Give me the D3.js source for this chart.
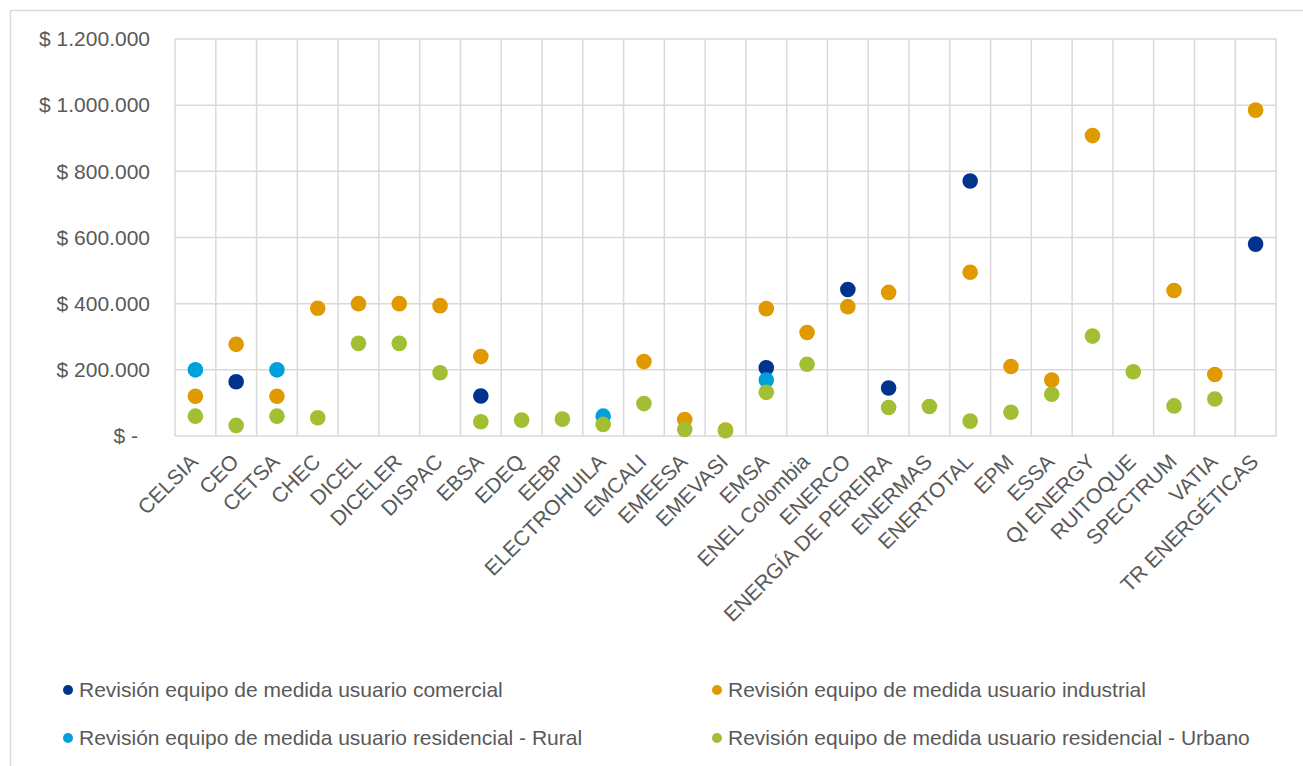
<!DOCTYPE html>
<html>
<head>
<meta charset="utf-8">
<script src="https://cdn.jsdelivr.net/npm/d3@7"></script>
<style>
  html, body { margin: 0; padding: 0; background: #fff; }
  svg { display: block; font-family: "Liberation Sans", Arial, sans-serif; }
</style>
</head>
<body>
<svg id="chart" width="1303" height="766"></svg>
<script>
const categories = ["CELSIA","CEO","CETSA","CHEC","DICEL","DICELER","DISPAC","EBSA","EDEQ","EEBP","ELECTROHUILA","EMCALI","EMEESA","EMEVASI","EMSA","ENEL Colombia","ENERCO","ENERGÍA DE PEREIRA","ENERMAS","ENERTOTAL","EPM","ESSA","QI ENERGY","RUITOQUE","SPECTRUM","VATIA","TR ENERGÉTICAS"];

const comercial  = [null,164000,null,null,null,null,null,121000,null,null,null,null,null,null,206000,null,443000,145000,null,771000,null,null,null,null,null,null,580000];
const industrial = [120000,277000,120000,386000,400000,400000,394000,240000,null,null,null,225000,50000,18000,385000,313000,391000,434000,null,495000,210000,169000,908000,null,440000,186000,985000];
const rural      = [200000,null,200000,null,null,null,null,null,null,null,60000,null,null,null,169000,null,null,null,null,null,null,null,null,null,null,null,null];
const urbano     = [60000,32000,60000,55000,280000,280000,191000,43000,48000,51000,35000,98000,20000,16000,132000,217000,null,86000,89000,45000,72000,126000,302000,194000,91000,112000,null];

const seriesNames = [
  "Revisión equipo de medida usuario comercial",
  "Revisión equipo de medida usuario industrial",
  "Revisión equipo de medida usuario residencial - Rural",
  "Revisión equipo de medida usuario residencial - Urbano"
];
const seriesColors = ["#00338D", "#E09A00", "#00A0DC", "#A2BE32"];
const yTicks = [0, 200000, 400000, 600000, 800000, 1000000, 1200000];

const svg = d3.select("#chart");
const plot = { left: 175, right: 1276, top: 39, bottom: 436 };
const textColor = "#595959";
const gridColor = "#D9D9D9";
const fontSize = 21;

// outer chart border
svg.append("rect")
  .attr("x", 10.5).attr("y", 10.5)
  .attr("width", 1400).attr("height", 900)
  .attr("fill", "none").attr("stroke", gridColor).attr("stroke-width", 1.5);

const x = d3.scaleBand().domain(categories).range([plot.left, plot.right]).padding(0);
const y = d3.scaleLinear().domain([0, 1200000]).range([plot.bottom, plot.top]);

// horizontal gridlines
svg.append("g").selectAll("line").data(yTicks).join("line")
  .attr("x1", plot.left).attr("x2", plot.right)
  .attr("y1", d => y(d)).attr("y2", d => y(d))
  .attr("stroke", gridColor).attr("stroke-width", 1.5);

// vertical gridlines at category boundaries
const bounds = categories.map(c => x(c)).concat([plot.right]);
svg.append("g").selectAll("line").data(bounds).join("line")
  .attr("x1", d => d).attr("x2", d => d)
  .attr("y1", plot.top).attr("y2", plot.bottom)
  .attr("stroke", gridColor).attr("stroke-width", 1.5);

// y axis
const fmt = v => v === 0 ? "$ -" : "$ " + d3.format(",")(v).replace(/,/g, ".");
const yAxis = svg.append("g")
  .attr("transform", `translate(${plot.left},0)`)
  .call(d3.axisLeft(y).tickValues(yTicks).tickFormat(fmt).tickSize(0).tickPadding(25));
yAxis.select(".domain").remove();
yAxis.selectAll("text")
  .attr("fill", textColor).style("font-size", fontSize + "px")
  .attr("dx", d => d === 0 ? -12 : 0);

// x axis
const xAxis = svg.append("g")
  .attr("transform", `translate(0,${plot.bottom})`)
  .call(d3.axisBottom(x).tickSize(0).tickPadding(0));
xAxis.select(".domain").remove();
xAxis.selectAll("text")
  .attr("fill", textColor).style("font-size", fontSize + "px")
  .attr("text-anchor", "end")
  .attr("y", 0).attr("dy", 0)
  .attr("transform", "translate(4,27) rotate(-45)");

// points
const allSeries = [comercial, industrial, rural, urbano];
allSeries.forEach((vals, si) => {
  svg.append("g").selectAll("circle")
    .data(vals.map((v, i) => ({ c: categories[i], v })).filter(d => d.v !== null))
    .join("circle")
    .attr("cx", d => x(d.c) + x.bandwidth() / 2)
    .attr("cy", d => y(d.v))
    .attr("r", 7.8)
    .attr("fill", seriesColors[si]);
});

// legend
const legendPos = [[68, 690], [717, 690], [68, 738], [717, 738]];
const lg = svg.append("g").selectAll("g").data(seriesNames).join("g")
  .attr("transform", (d, i) => `translate(${legendPos[i][0]},${legendPos[i][1]})`);
lg.append("circle").attr("r", 5).attr("fill", (d, i) => seriesColors[i]);
lg.append("text").attr("x", 11).attr("dy", "0.35em")
  .attr("fill", textColor).style("font-size", fontSize + "px")
  .text(d => d);
</script>
</body>
</html>
